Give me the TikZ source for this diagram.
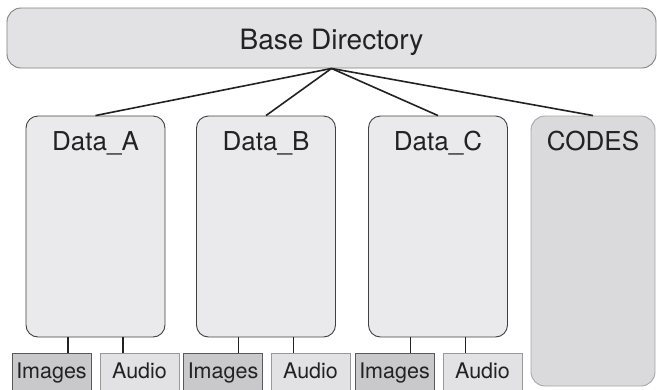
\documentclass[tikz,border=0pt]{standalone}
\usepackage{fontspec}
\setmainfont{TeX Gyre Heros}
\definecolor{basefill}{HTML}{E2E2E4}
\definecolor{datafill}{HTML}{EAEAEC}
\definecolor{codefill}{HTML}{DADADC}
\definecolor{imgfill}{HTML}{C9C9CB}
\definecolor{audfill}{HTML}{E2E2E4}
\definecolor{ink}{HTML}{222222}
\tikzset{
  basebox/.style={draw=black!50, fill=basefill, line width=0.9pt, rounded corners=14pt,
    minimum width=649pt, minimum height=60pt, inner sep=0pt},
  databox/.style={draw=black!75, fill=datafill, line width=0.9pt, rounded corners=12pt,
    minimum width=139pt, minimum height=221pt, inner sep=0pt},
  codebox/.style={draw=black!35, fill=codefill, line width=0.9pt, rounded corners=14pt,
    minimum width=124pt, minimum height=270pt, inner sep=0pt},
  imgbox/.style={draw=black!65, fill=imgfill, line width=0.9pt,
    minimum width=79pt, minimum height=40pt, inner sep=0pt},
  audbox/.style={draw=black!40, fill=audfill, line width=0.9pt,
    minimum width=79pt, minimum height=40pt, inner sep=0pt},
  bigtext/.style={font=\fontsize{28}{32}\selectfont, text=ink, anchor=base, inner sep=0pt},
  datatext/.style={font=\fontsize{26}{30}\selectfont, text=ink, anchor=base, inner sep=0pt},
  smalltext/.style={font=\fontsize{21.5}{24}\selectfont, text=ink, anchor=base, inner sep=0pt},
  link/.style={draw=ink, line width=1.6pt},
  tick/.style={draw=ink, line width=1.3pt},
}
\begin{document}
\begin{tikzpicture}[x=1pt, y=-1pt]
  \clip (0,0) rectangle (657,389);
  \useasboundingbox (0,0) rectangle (657,389);

  % top level folder
  \node[basebox] (base) at (331.5,38) {};
  \node[bigtext] (baset) at (331.5,49) {Base Directory};

  % data folders and the code folder
  \node[databox] (da) at (95.5,226.5) {};
  \node[databox] (db) at (266,226.5) {};
  \node[databox] (dc) at (438,226.5) {};
  \node[codebox] (cd) at (593,251) {};

  \node[datatext] (dat) at ([yshift=-35]da.north) {Data\_A};
  \node[datatext] (dbt) at ([yshift=-35]db.north) {Data\_B};
  \node[datatext] (dct) at ([yshift=-35]dc.north) {Data\_C};
  \node[datatext] (cdt) at ([yshift=-35]cd.north) {CODES};

  % sub-folders
  \node[imgbox] (ia) at (51.5,373) {};
  \node[audbox] (aa) at (139.5,373) {};
  \node[imgbox] (ib) at (223,373) {};
  \node[audbox] (ab) at (310.5,373) {};
  \node[imgbox] (ic) at (394.5,373) {};
  \node[audbox] (ac) at (482.5,373) {};

  \node[smalltext] (iat) at ([yshift=-26]ia.north) {Images};
  \node[smalltext] (aat) at ([yshift=-26]aa.north) {Audio};
  \node[smalltext] (ibt) at ([yshift=-26]ib.north) {Images};
  \node[smalltext] (abt) at ([yshift=-26]ab.north) {Audio};
  \node[smalltext] (ict) at ([yshift=-26]ic.north) {Images};
  \node[smalltext] (act) at ([yshift=-26]ac.north) {Audio};

  % links from the base directory
  \coordinate (hub) at (base.south);
  \draw[link] (hub) -- (da.north);
  \draw[link] (hub) -- (db.north);
  \draw[link] (hub) -- (dc.north);
  \draw[link] (hub) -- (cd.north);

  % short stems down to the sub-folders
  \foreach \d/\i/\a in {da/ia/aa, db/ib/ab, dc/ic/ac} {
    \draw[tick] ([xshift=-27.5]\d.south) -- ([xshift=-27.5]\d.south |- \i.north);
    \draw[tick] ([xshift=27.5]\d.south) -- ([xshift=27.5]\d.south |- \a.north);
  }
\end{tikzpicture}
\end{document}
